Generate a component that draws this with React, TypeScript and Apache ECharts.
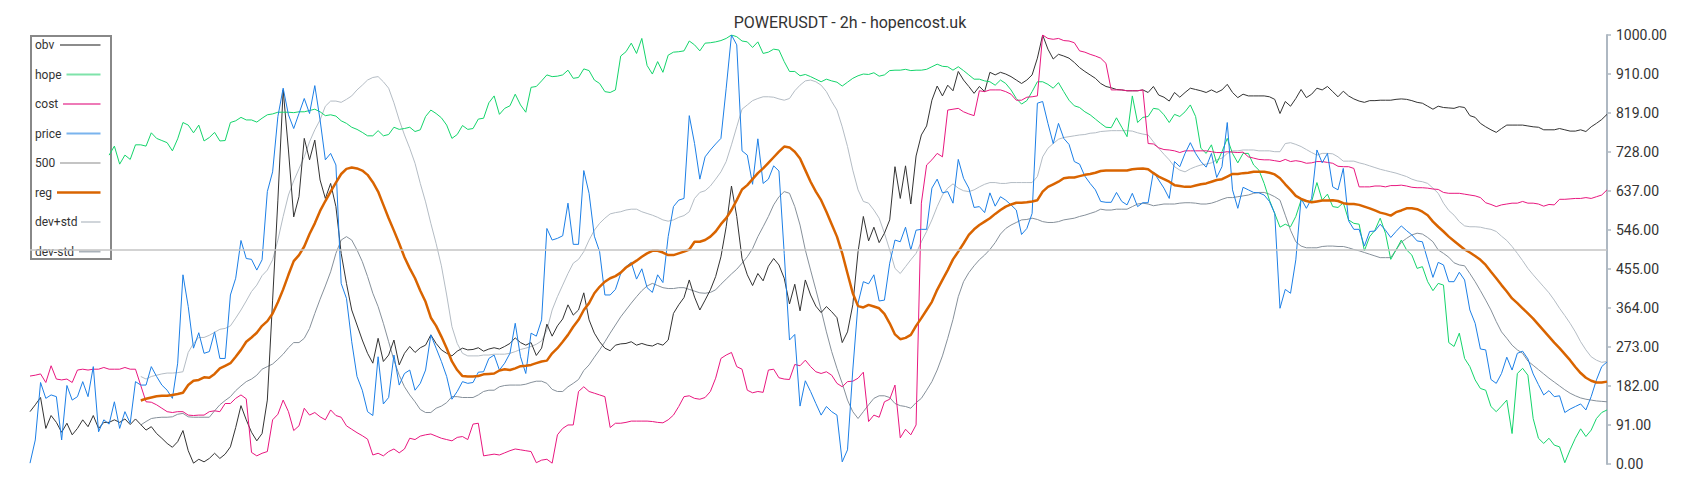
import React, { useEffect, useRef } from "react";
import * as echarts from "echarts";

const TITLE = "POWERUSDT - 2h - hopencost.uk";
const THRESHOLD = 500;
const Y_MIN = 0;
const Y_MAX = 1000;
const Y_STEP = 91;
const HOPE_START = 15;
const BAND_START = 21;

const obv = [
  122,138,155,83,113,97,74,95,68,83,103,87,113,83,97,97,103,97,105,92,105,92,79,87,71,60,48,39,52,78,31,2,11,5,13,25,13,23,40,85,136,103,74,54,71,149,382,615,872,732,576,623,
  759,709,755,662,619,654,600,491,421,359,324,289,258,235,293,239,254,289,231,258,274,260,271,277,301,281,266,258,252,263,270,266,267,271,263,268,271,268,274,281,294,283,277,283,253,270,326,298,322,338,371,347,359,
  399,336,305,285,270,264,277,280,281,285,277,281,277,275,281,277,289,351,371,388,429,389,359,382,406,437,483,553,648,577,479,441,416,444,427,461,479,464,433,373,419,357,429,394,368,353,367,355,341,283,308,371,495,
  577,520,552,516,538,569,693,619,695,606,718,767,788,848,881,858,883,870,915,895,880,864,880,868,913,907,913,909,903,895,887,895,907,946,1000,967,944,955,951,946,936,924,915,907,899,887,880,877,873,872,870,870,
  870,872,866,880,860,855,846,866,855,866,876,873,870,866,872,866,872,885,866,854,862,858,858,858,858,856,850,817,845,834,852,873,854,862,876,872,880,868,856,869,858,851,846,843,847,847,848,848,848,850,851,850,847,843,
  841,834,827,834,831,830,829,833,831,812,808,794,786,779,773,782,790,790,790,790,788,786,785,779,779,779,782,779,776,776,779,775,786,794,803,815
];

const hope = [
  720,741,699,720,710,744,744,741,772,759,754,749,730,758,796,790,772,790,753,761,773,753,754,796,800,808,802,802,797,806,814,816,820,820,820,819,821,
  821,824,827,821,812,814,811,800,794,785,780,773,765,765,777,765,768,785,780,782,785,775,779,810,825,817,807,790,759,768,789,780,782,804,806,842,858,815,829,835,862,837,820,878,880,893,907,903,904,907,918,899,901,
  921,917,895,887,868,866,872,951,961,981,957,992,929,909,938,913,953,960,961,963,986,977,963,981,982,984,987,992,1000,996,986,984,971,984,957,960,967,965,938,915,915,905,908,903,897,891,897,893,890,881,890,899,905,
  909,908,912,904,907,917,918,918,920,917,918,918,920,926,932,927,926,918,926,917,907,897,897,893,891,883,895,887,872,852,839,847,868,891,891,885,876,889,868,848,835,831,821,814,804,794,785,784,807,785,763,858,
  796,808,810,829,827,814,796,815,810,821,837,810,736,724,744,701,728,759,724,702,724,724,697,685,654,615,584,552,559,553,577,615,612,612,656,615,629,600,598,609,569,561,559,497,530,545,573,538,477,499,522,499,487,456,
  460,425,404,421,417,283,274,305,246,227,196,176,172,134,122,135,149,71,211,223,207,106,60,48,60,44,40,3,33,60,82,64,79,106,120,126
];

const cost = [
  205,207,210,190,229,198,196,198,190,219,221,219,221,221,225,221,221,221,225,221,221,183,145,144,138,130,122,120,122,122,114,113,114,114,122,124,122,141,141,153,161,152,27,19,25,29,103,116,149,122,78,89,
  130,114,120,110,103,126,113,109,89,81,73,66,58,21,25,19,29,35,26,35,60,57,65,68,70,65,60,57,54,62,64,57,93,95,19,21,23,21,26,31,35,33,31,29,3,9,11,2,68,83,91,91,169,
  180,169,165,161,157,85,95,95,97,100,100,100,100,99,97,96,103,114,134,157,159,153,151,155,169,200,246,254,260,227,221,172,166,169,167,219,221,201,198,197,232,229,242,227,215,211,215,207,188,180,192,193,200,
  214,99,114,109,145,151,184,61,81,68,91,608,697,709,724,716,825,827,829,821,816,812,870,868,872,872,872,868,862,848,848,855,856,858,1000,992,990,992,987,986,982,963,960,955,951,946,934,872,872,872,870,870,
  870,872,747,746,737,733,732,730,726,730,730,730,730,730,728,726,726,728,727,726,727,716,713,710,709,709,707,705,710,705,707,705,701,702,705,705,703,701,694,693,693,689,646,646,646,648,648,646,649,649,650,648,645,644,
  644,643,641,640,633,631,631,631,629,627,625,621,609,605,600,604,606,608,608,612,608,608,606,601,605,604,617,617,618,619,619,621,619,623,627,639
];

const price = [
  2,56,190,153,161,157,56,183,149,157,192,157,227,75,103,93,145,83,122,95,192,184,184,227,204,184,172,153,235,441,367,270,306,258,262,308,246,246,394,433,521,479,477,452,476,635,681,810,876,814,782,817,
  852,817,882,802,709,724,697,421,386,285,204,172,122,113,250,140,155,254,184,211,219,172,188,219,301,270,239,204,151,169,192,188,190,214,215,246,254,219,235,258,328,250,211,305,298,336,549,522,526,532,608,512,512,
  684,631,531,495,394,394,407,444,460,470,431,455,411,400,441,423,530,600,615,619,812,747,664,716,732,746,759,876,1000,977,730,720,652,758,654,664,695,683,491,289,302,135,194,169,141,114,134,122,114,5,33,219,375,
  425,420,441,380,382,468,522,518,552,499,545,547,547,643,664,632,635,608,710,666,643,598,600,586,632,601,623,615,604,592,535,549,584,841,845,794,747,794,759,745,705,699,671,654,639,612,610,610,633,612,604,631,
  600,609,609,681,662,643,619,705,693,724,749,724,705,692,724,668,693,796,639,596,645,639,633,632,627,612,584,363,407,398,476,619,596,619,732,702,724,646,639,689,567,547,547,508,542,543,559,545,528,542,555,544,534,520,
  518,476,435,470,464,425,425,447,429,359,328,268,266,197,188,211,249,219,258,263,245,210,185,161,171,157,159,120,128,134,140,126,157,196,227,238
];

const reg = [
  148,152,155,158,159,159,161,163,166,184,194,196,202,201,210,223,229,235,250,266,285,295,306,322,333,351,377,407,441,473,487,
  507,536,561,590,613,635,656,676,688,691,689,684,674,657,635,604,573,544,514,482,456,433,404,378,341,322,297,270,239,219,205,204,204,205,209,210,211,218,221,219,223,228,229,231,235,239,241,258,270,285,301,320,336,
  359,375,398,413,425,433,438,446,458,466,474,483,491,497,497,493,487,487,491,495,500,518,518,522,530,542,559,573,592,615,640,650,664,678,689,702,715,728,740,738,728,712,685,658,635,615,588,559,530,491,444,398,368,
  365,371,367,363,350,328,302,291,294,301,322,340,359,378,406,429,452,477,495,514,534,547,557,565,573,583,592,600,605,609,609,610,612,615,635,646,652,658,666,668,668,671,674,676,679,683,684,684,684,684,684,687,
  688,689,687,678,670,664,658,650,648,646,646,649,652,654,658,662,664,670,676,676,678,679,681,681,681,679,675,666,652,639,625,618,613,610,612,614,614,615,613,608,606,606,604,600,596,591,586,583,579,587,591,596,596,594,
  588,580,565,553,542,530,520,510,500,493,485,476,464,448,433,417,402,386,375,363,351,339,325,311,297,283,270,256,242,226,212,201,194,190,190,192
];

const devPlus = [
  204,198,204,207,210,212,212,213,215,260,281,295,295,300,307,314,316,322,340,359,380,402,417,439,452,476,522,577,627,660,688,
  716,751,779,802,834,846,846,843,850,858,872,883,895,901,903,891,876,842,802,767,736,701,654,611,561,514,462,394,320,281,258,252,252,252,254,254,256,256,256,258,262,267,270,274,279,287,312,359,390,417,444,468,477,
  495,522,545,561,573,583,586,588,592,594,594,588,584,580,575,569,566,569,575,579,588,619,633,637,648,664,681,705,744,786,827,837,847,852,856,856,855,851,848,852,870,883,893,895,891,883,868,845,825,786,740,685,639,
  612,608,592,573,538,499,456,444,460,476,491,518,542,569,600,627,643,653,643,637,635,639,646,652,656,656,654,654,656,656,656,656,656,670,716,736,747,757,761,763,765,767,768,771,772,775,776,777,777,777,777,776,
  772,769,767,751,736,722,709,693,685,681,688,693,697,699,702,709,713,724,730,730,732,732,732,730,730,730,728,728,747,749,745,740,733,726,720,724,724,723,716,706,706,706,702,699,695,691,687,684,681,678,674,670,664,660,
  658,654,643,631,608,591,580,565,555,553,553,552,549,547,542,531,521,507,491,474,456,441,427,413,399,382,363,346,328,308,285,266,250,242,237,239
];

const devMinus = [
  91,99,106,108,109,109,110,116,118,110,109,109,109,109,124,138,148,157,171,182,192,198,207,221,227,233,244,256,271,283,283,
  293,316,351,384,415,448,491,522,530,522,499,472,437,398,367,328,285,242,207,180,161,145,127,120,120,130,135,143,157,157,155,155,155,161,169,172,172,180,183,184,184,184,186,190,193,193,188,174,169,169,180,188,197,
  218,231,249,266,285,305,324,343,359,375,390,404,415,421,416,411,409,409,411,411,407,403,399,398,400,406,419,431,443,454,468,483,502,530,553,577,604,623,635,631,600,557,499,452,406,359,308,262,223,188,149,122,106,
  122,138,153,159,159,155,141,136,134,130,143,153,172,192,219,252,293,337,390,425,446,462,476,487,500,516,536,549,557,563,569,570,573,570,565,563,563,565,569,571,573,577,580,584,588,594,592,592,594,594,594,600,
  606,608,606,602,604,606,606,606,608,609,609,608,606,606,608,612,617,621,621,623,625,627,631,633,633,629,623,615,580,545,518,508,504,504,504,507,508,508,507,507,504,500,497,493,489,485,481,481,481,499,517,526,534,538,
  536,528,518,499,491,482,469,464,462,444,425,404,382,359,332,308,293,277,266,258,240,230,220,210,200,191,182,173,165,159,154,151,149,147,146,145
];

const categories = obv.map((_, i) => String(i));
const pad = (n: number, arr: number[]) => (new Array(n).fill(null) as (number | null)[]).concat(arr);

const legendItems = [
  { name: "obv", color: "#8c8c8c", x0: 60, w: 2 },
  { name: "hope", color: "#7fe3aa", x0: 66.5, w: 2 },
  { name: "cost", color: "#ee7ab7", x0: 63, w: 2 },
  { name: "price", color: "#7ab4ee", x0: 66.5, w: 2 },
  { name: "500", color: "#c4c4c4", x0: 60, w: 2 },
  { name: "reg", color: "#d96400", x0: 57, w: 2.5 },
  { name: "dev+std", color: "#d0d5da", x0: 81, w: 2 },
  { name: "dev-std", color: "#a9b1b9", x0: 79, w: 2 },
];

export default function App() {
  const ref = useRef<HTMLDivElement>(null);
  useEffect(() => {
    if (!ref.current) return;
    const chart = echarts.init(ref.current, undefined, { renderer: "svg" });
    const line = (name: string, data: (number | null)[], color: string, width: number) => ({
      name,
      type: "line",
      data,
      showSymbol: false,
      symbol: "none",
      lineStyle: { color, width },
      itemStyle: { color },
      emphasis: { disabled: true },
    });
    const legendChildren: any[] = [
      {
        type: "rect",
        shape: { x: 31, y: 36, width: 80, height: 223 },
        style: { fill: "#ffffff", stroke: "#888888", lineWidth: 2 },
      },
    ];
    legendItems.forEach((it, k) => {
      const y = 45 + k * 29.5;
      legendChildren.push({
        type: "text",
        x: 35,
        y,
        style: { text: it.name, fill: "#333333", fontSize: 12, fontFamily: "Roboto", verticalAlign: "middle" },
      });
      legendChildren.push({
        type: "line",
        shape: { x1: it.x0, y1: y, x2: 100.5, y2: y },
        style: { stroke: it.color, lineWidth: it.w },
      });
    });
    chart.setOption({
      animation: false,
      title: {
        text: TITLE,
        left: "center",
        top: 9,
        textStyle: { fontSize: 16, fontWeight: "normal", color: "#333333", fontFamily: "Roboto" },
      },
      grid: { left: 30, right: 93, top: 35, bottom: 36, containLabel: false },
      xAxis: { type: "category", data: categories, boundaryGap: false, show: false },
      yAxis: {
        type: "value",
        position: "right",
        min: Y_MIN,
        max: Y_MAX,
        interval: Y_STEP,
        axisLine: { show: true, lineStyle: { color: "#aeb8c2", width: 2 } },
        axisTick: { show: true, length: 4, lineStyle: { color: "#aeb8c2", width: 1.5 } },
        axisLabel: {
          formatter: (v: number) => v.toFixed(2),
          color: "#333333",
          fontSize: 14,
          fontFamily: "Roboto",
          margin: 9,
        },
        splitLine: { show: false },
      },
      series: [
        {
          name: "500",
          type: "line",
          data: [],
          markLine: {
            silent: true,
            symbol: "none",
            label: { show: false },
            lineStyle: { color: "#c4c4c4", width: 1.5, type: "solid" },
            data: [{ yAxis: THRESHOLD }],
          },
        },
        line("dev+std", pad(BAND_START, devPlus), "#b4bcc4", 1),
        line("dev-std", pad(BAND_START, devMinus), "#86909a", 1),
        line("obv", obv, "#333333", 1),
        line("hope", pad(HOPE_START, hope), "#14d46b", 1),
        line("cost", cost, "#e8177f", 1),
        line("price", price, "#1c7fe6", 1),
        line("reg", pad(BAND_START, reg), "#d96400", 2.5),
      ],
      graphic: [{ type: "group", z: 100, children: legendChildren }],
    });
    return () => chart.dispose();
  }, []);
  return (
    <div
      ref={ref}
      style={{ position: "absolute", left: 0, top: 0, width: 1700, height: 500, background: "#ffffff" }}
    />
  );
}
